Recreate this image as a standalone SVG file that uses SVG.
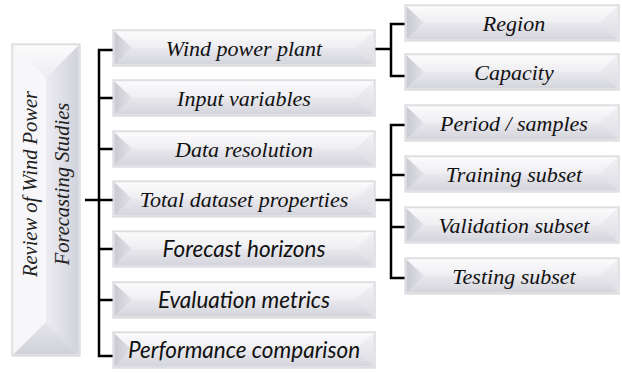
<svg xmlns="http://www.w3.org/2000/svg" xmlns:xlink="http://www.w3.org/1999/xlink" width="622" height="374" viewBox="0 0 622 374">
  <style>
    .lbl { font-family: "Liberation Serif", "Times New Roman", serif; font-style: italic; font-size: 22px; fill: #111; text-anchor: middle; }
    .lbl-c { font-family: Lato, "Open Sans", "Liberation Sans", sans-serif; font-style: italic; font-size: 22.5px; fill: #111; text-anchor: middle; }
    .title { font-family: "Liberation Serif", "Times New Roman", serif; font-style: italic; font-size: 20.5px; fill: #222; text-anchor: middle; }
    .frame { fill: #ececf0; stroke: #cfcfd5; stroke-width: 1; }
    .wire { fill: none; stroke: #000; stroke-width: 2.5; }
  </style>
  <defs>
    <linearGradient id="gTop" x1="0" y1="0" x2="0" y2="1">
      <stop offset="0" stop-color="#fbfbfc"/>
      <stop offset="1" stop-color="#eeeef2"/>
    </linearGradient>
    <linearGradient id="gBot" x1="0" y1="0" x2="0" y2="1">
      <stop offset="0" stop-color="#e8e8ed"/>
      <stop offset="1" stop-color="#d4d4dc"/>
    </linearGradient>
    <linearGradient id="gLeft" x1="0" y1="0" x2="1" y2="0">
      <stop offset="0" stop-color="#c9c9d1"/>
      <stop offset="1" stop-color="#e2e2e8"/>
    </linearGradient>
    <linearGradient id="gRight" x1="0" y1="0" x2="0" y2="1">
      <stop offset="0" stop-color="#f2f2f5"/>
      <stop offset="1" stop-color="#dcdce3"/>
    </linearGradient>
    <linearGradient id="gTallRight" x1="0" y1="0" x2="1" y2="0">
      <stop offset="0" stop-color="#ececf1"/>
      <stop offset="1" stop-color="#d2d2dc"/>
    </linearGradient>
    <linearGradient id="gTallBot" x1="0" y1="0" x2="0" y2="1">
      <stop offset="0" stop-color="#e6e6ec"/>
      <stop offset="1" stop-color="#d0d0d8"/>
    </linearGradient>

    <!-- bevelled bar, 262 x 36 -->
    <g id="bevel-mid">
      <rect class="frame" x="0" y="0" width="262" height="36"/>
      <polygon points="1.5,1.5 260.5,1.5 243,18 19,18" fill="url(#gTop)"/>
      <polygon points="19,18 243,18 260.5,34.5 1.5,34.5" fill="url(#gBot)"/>
      <polygon points="1.5,1.5 19,18 1.5,34.5" fill="url(#gLeft)"/>
      <polygon points="260.5,1.5 243,18 260.5,34.5" fill="url(#gRight)"/>
    </g>
    <!-- bevelled bar, 214 x 36 -->
    <g id="bevel-side">
      <rect class="frame" x="0" y="0" width="214" height="36"/>
      <polygon points="1.5,1.5 212.5,1.5 195,18 19,18" fill="url(#gTop)"/>
      <polygon points="19,18 195,18 212.5,34.5 1.5,34.5" fill="url(#gBot)"/>
      <polygon points="1.5,1.5 19,18 1.5,34.5" fill="url(#gLeft)"/>
      <polygon points="212.5,1.5 195,18 212.5,34.5" fill="url(#gRight)"/>
    </g>
  </defs>

  <rect width="622" height="374" fill="#fff"/>

  <!-- connectors -->
  <g id="connectors">
    <path class="wire" d="M114,50 H99 V356 H114"/>
    <path class="wire" d="M99,98 H114 M99,149 H114 M85,200 H114 M99,249 H114 M99,300 H114"/>
    <path class="wire" d="M375,49 H391 M405,24 H391 V76 H405"/>
    <path class="wire" d="M375,200 H391 M405,125 H391 V278 H405 M391,175 H405 M391,227 H405"/>
  </g>

  <!-- root -->
  <g id="root">
    <rect class="frame" x="12" y="44" width="68" height="312"/>
    <polygon points="13.5,45.5 78.5,45.5 46,78" fill="url(#gTop)"/>
    <polygon points="13.5,45.5 46,78 46,322 13.5,354.5" fill="#f7f7f9"/>
    <polygon points="78.5,45.5 46,78 46,322 78.5,354.5" fill="url(#gTallRight)"/>
    <polygon points="13.5,354.5 46,322 78.5,354.5" fill="url(#gTallBot)"/>
    <text class="title" transform="translate(37,184) rotate(-90)">Review of Wind Power</text>
    <text class="title" transform="translate(69,184) rotate(-90)">Forecasting Studies</text>
  </g>

  <!-- second level -->
  <g id="wind-power-plant">
    <use xlink:href="#bevel-mid" x="113" y="30"/>
    <text class="lbl" x="244" y="55.5">Wind power plant</text>
  </g>
  <g id="input-variables">
    <use xlink:href="#bevel-mid" x="113" y="80"/>
    <text class="lbl" x="244" y="105.5">Input variables</text>
  </g>
  <g id="data-resolution">
    <use xlink:href="#bevel-mid" x="113" y="131"/>
    <text class="lbl" x="244" y="156.5">Data resolution</text>
  </g>
  <g id="total-dataset-properties">
    <use xlink:href="#bevel-mid" x="113" y="181"/>
    <text class="lbl" x="244" y="206.5">Total dataset properties</text>
  </g>
  <g id="forecast-horizons">
    <use xlink:href="#bevel-mid" x="113" y="231"/>
    <text class="lbl-c" x="244" y="257">Forecast horizons</text>
  </g>
  <g id="evaluation-metrics">
    <use xlink:href="#bevel-mid" x="113" y="282"/>
    <text class="lbl-c" x="244" y="308">Evaluation metrics</text>
  </g>
  <g id="performance-comparison">
    <use xlink:href="#bevel-mid" x="113" y="332"/>
    <text class="lbl-c" x="244" y="358">Performance comparison</text>
  </g>

  <!-- third level: plant -->
  <g id="region">
    <use xlink:href="#bevel-side" x="405" y="5"/>
    <text class="lbl" x="514" y="30.5">Region</text>
  </g>
  <g id="capacity">
    <use xlink:href="#bevel-side" x="405" y="54"/>
    <text class="lbl" x="514" y="79.5">Capacity</text>
  </g>

  <!-- third level: dataset -->
  <g id="period-samples">
    <use xlink:href="#bevel-side" x="405" y="105"/>
    <text class="lbl" x="514" y="130.5">Period / samples</text>
  </g>
  <g id="training-subset">
    <use xlink:href="#bevel-side" x="405" y="156"/>
    <text class="lbl" x="514" y="181.5">Training subset</text>
  </g>
  <g id="validation-subset">
    <use xlink:href="#bevel-side" x="405" y="207"/>
    <text class="lbl" x="514" y="232.5">Validation subset</text>
  </g>
  <g id="testing-subset">
    <use xlink:href="#bevel-side" x="405" y="258"/>
    <text class="lbl" x="514" y="283.5">Testing subset</text>
  </g>
</svg>
